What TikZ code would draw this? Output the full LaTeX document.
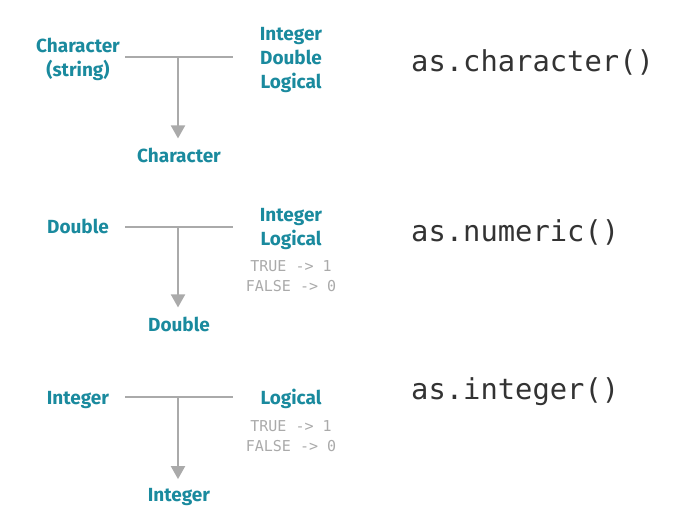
\documentclass[tikz,border=0pt]{standalone}
\usepackage{fontspec}
\setsansfont{Fira Sans}
\setmonofont{DejaVu Sans Mono}
\usetikzlibrary{positioning,arrows.meta}
\definecolor{rteal}{HTML}{1A8A9E}
\definecolor{rgray}{HTML}{AAAAAA}
\definecolor{rdark}{HTML}{333333}

\begin{document}
\begin{tikzpicture}[x=1pt, y=-1pt,
                    type/.style={font=\sffamily\bfseries\fontsize{19}{24}\selectfont, text=rteal, align=center, inner sep=0pt},
                    fn/.style={font=\ttfamily\fontsize{28.8}{30}\selectfont, text=rdark, inner sep=0pt, anchor=west},
                    rule/.style={font=\ttfamily\fontsize{15}{20}\selectfont, text=rgray, align=center, inner sep=0pt},
                    line/.style={draw=rgray, line width=2pt},
                    arrow/.style={line, -{Triangle[width=14pt, length=13pt]}, shorten >=9pt}]
    \useasboundingbox (0,0) rectangle (676,522);

    % Nodes
    \node [type]                         (charIn)    at (78,59)   {Character\\(string)};
    \node [type]                         (charFrom)  at (291,60)  {Integer\\Double\\Logical};
    \node [type]                         (charOut)   at (179,155) {Character};
    \node [fn]                           (charFn)    at (411,62)  {as.character()};

    \node [type]                         (numIn)     at (78,226)  {Double};
    \node [type]                         (numFrom)   at (291,229) {Integer\\Logical};
    \node [rule]                         (numRule)   at (291,276) {TRUE -> 1\\FALSE -> 0};
    \node [type]                         (numOut)    at (179,324) {Double};
    \node [fn]                           (numFn)     at (411,232) {as.numeric()};

    \node [type]                         (intIn)     at (78,400)  {Integer};
    \node [type]                         (intFrom)   at (291,399) {Logical};
    \node [rule]                         (intRule)   at (291,436) {TRUE -> 1\\FALSE -> 0};
    \node [type]                         (intOut)    at (179,497) {Integer};
    \node [fn]                           (intFn)     at (411,392) {as.integer()};

    \coordinate (charL) at (125,57);  \coordinate (charR) at (233,57);  \coordinate (charJ) at (178,57);
    \coordinate (numL)  at (125,227); \coordinate (numR)  at (233,227); \coordinate (numJ)  at (178,227);
    \coordinate (intL)  at (125,397); \coordinate (intR)  at (233,397); \coordinate (intJ)  at (178,397);

    % Paths
    \path [line]  (charL) -- (charR);
    \path [arrow] (charJ) -- (charJ |- charOut.north);
    \path [line]  (numL) -- (numR);
    \path [arrow] (numJ) -- (numJ |- numOut.north);
    \path [line]  (intL) -- (intR);
    \path [arrow] (intJ) -- (intJ |- intOut.north);
\end{tikzpicture}
\end{document}
